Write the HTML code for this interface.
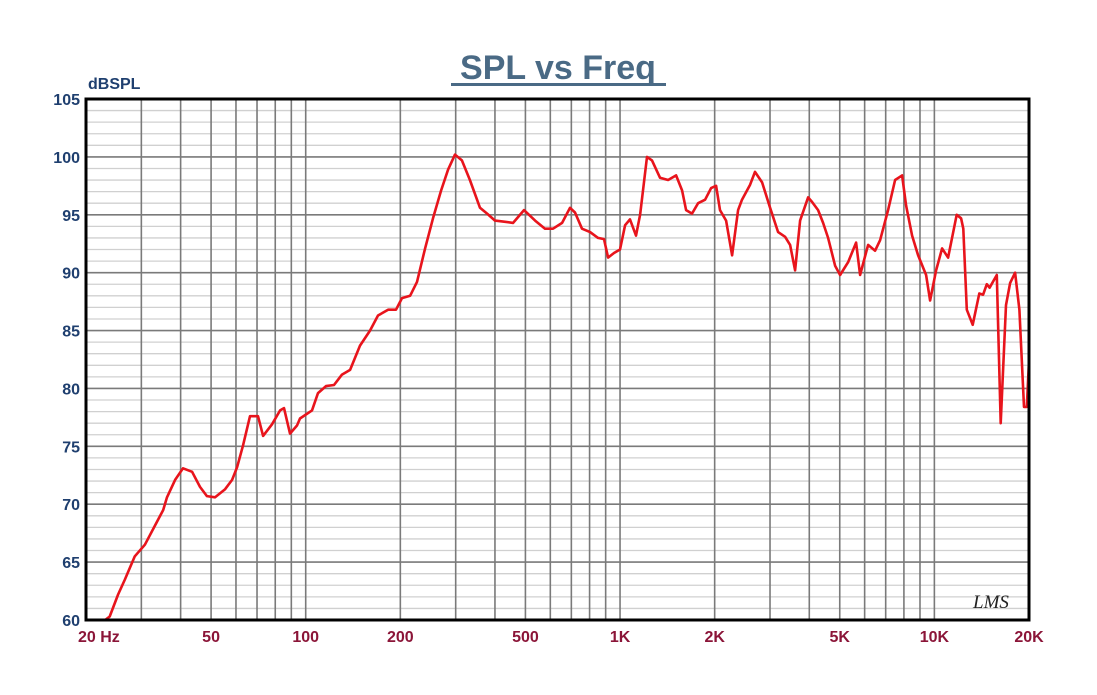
<!DOCTYPE html>
<html><head><meta charset="utf-8"><style>
html,body{margin:0;padding:0;background:#fff;}
svg{display:block;font-family:"Liberation Sans",Arial,sans-serif;}
</style></head><body>
<svg id="chart" width="1097" height="695" viewBox="0 0 1097 695" xmlns="http://www.w3.org/2000/svg">
<rect x="0" y="0" width="1097" height="695" fill="#fff"/>
<text x="558" y="79" text-anchor="middle" font-size="34" font-weight="bold" fill="#4a6a85">SPL vs Freq</text>
<rect x="451" y="83" width="215" height="3" fill="#4a6a85"/>
<text x="88" y="89" font-size="16" font-weight="bold" fill="#1f3f6f">dBSPL</text>
<g id="grid"></g>
<g id="yt"></g>
<g id="xt"></g>
<path id="curve" fill="none" stroke="#e8141c" stroke-width="2.6" stroke-linejoin="round"/>
<rect x="86" y="99" width="943" height="521" fill="none" stroke="#000" stroke-width="3"/>
<text x="973" y="608" font-size="19" font-style="italic" fill="#222" font-family="Liberation Serif,serif">LMS</text>
</svg>
<script>
const freqs=[20,23,23.8,25.3,26.6,28.6,30.8,33.2,35.2,36.2,38.4,40.7,43.5,46.1,48.5,51.5,55.4,58.3,60.5,63.2,66.5,70.5,73.2,78.1,82.9,85.3,89.1,93.8,95.9,104.7,109.4,116,123,130.5,138.4,148.8,160.2,169.8,182.8,193.8,202.5,214.8,226,239.8,254,269.6,283.8,298.6,314,333,358.6,377.6,400,427.6,456.8,495,536.6,577,612,654,693,719,757,803,851,889,916,957,1000,1038,1076,1124,1158,1218,1264,1340,1422,1508,1576,1622,1694,1771,1864,1948,2021,2080,2174,2272,2374,2444,2592,2688,2830,3002,3182,3350,3476,3606,3740,3964,4082,4266,4426,4590,4832,5012,5316,5636,5802,6152,6476,6718,7124,7500,7894,8128,8492,8876,9412,9692,10128,10582,11060,11780,12160,12360,12680,13240,13900,14290,14680,14990,15800,16260,16900,17420,18060,18640,19280,19680,20000];
const spl=[60,60,60.3,62.2,63.5,65.5,66.5,68.2,69.5,70.6,72.1,73.1,72.8,71.5,70.7,70.6,71.3,72.1,73.2,75.1,77.6,77.6,75.9,76.9,78.1,78.3,76.1,76.8,77.4,78.1,79.6,80.2,80.3,81.2,81.6,83.7,85,86.3,86.8,86.8,87.8,88,89.2,92.1,94.7,97.1,98.9,100.2,99.7,98,95.6,95.1,94.5,94.4,94.3,95.4,94.5,93.8,93.8,94.3,95.6,95.2,93.8,93.5,93,92.9,91.3,91.7,92,94.1,94.6,93.2,95,100,99.7,98.2,98,98.4,97.1,95.4,95.1,96,96.3,97.3,97.5,95.4,94.5,91.5,95.4,96.3,97.6,98.7,97.8,95.6,93.5,93.1,92.4,90.2,94.5,96.5,96.1,95.4,94.3,93,90.6,89.8,90.9,92.6,89.8,92.4,91.9,92.8,95.4,98,98.4,95.8,93.2,91.5,89.8,87.6,90.2,92.1,91.3,95,94.7,93.8,86.8,85.5,88.2,88.1,89,88.7,89.8,77,87.2,89.1,90,86.8,78.4,78.4,82.4];
const yTicks=[60,65,70,75,80,85,90,95,100,105];
const xTickVals=[20,50,100,200,500,1000,2000,5000,10000,20000];
const xTickLabels=["20  Hz","50","100","200","500","1K","2K","5K","10K","20K"];
const L=86,R=1029,T=99,B=620;
const xs=f=>L+(Math.log10(f)-Math.log10(20))/3*(R-L);
const ys=v=>B-(v-60)/45*(B-T);
const NS="http://www.w3.org/2000/svg";
function mk(parent,tag,attrs){const e=document.createElementNS(NS,tag);for(const k in attrs)e.setAttribute(k,attrs[k]);parent.appendChild(e);return e;}
const g=document.getElementById('grid');
for(let v=61;v<105;v++){if(v%5===0)continue;const l=mk(g,'line',{x1:L,x2:R,y1:ys(v),y2:ys(v),stroke:'#d0d0d0','stroke-width':1.3});

}
for(const v of yTicks){const l=mk(g,'line',{x1:L,x2:R,y1:ys(v),y2:ys(v),stroke:'#7a7a7a','stroke-width':1.6});

}
for(const d of [10,100,1000,10000]){for(let m=1;m<10;m++){const f=d*m;if(f<=20||f>=20000)continue;const l=mk(g,'line',{x1:xs(f),x2:xs(f),y1:T,y2:B,stroke:'#7a7a7a','stroke-width':1.6});

}}
const yt=document.getElementById('yt');
for(const v of yTicks){const t=mk(yt,'text',{x:80,y:ys(v)+6,'text-anchor':'end','font-size':16,'font-weight':'bold',fill:'#1f3f6f'});t.textContent=v;

}
const xt=document.getElementById('xt');
xTickVals.forEach((f,i)=>{let x=xs(f);let anchor='middle';if(i===0){x=78;anchor='start';}
const t=mk(xt,'text',{x:x,y:642,'text-anchor':anchor,'font-size':16,'font-weight':'bold',fill:'#8b1538','xml:space':'preserve'});t.textContent=xTickLabels[i];

});
let d='';freqs.forEach((f,i)=>{d+=(i?'L':'M')+xs(f).toFixed(1)+' '+ys(spl[i]).toFixed(1);});
document.getElementById('curve').setAttribute('d',d);
</script>
</body></html>
